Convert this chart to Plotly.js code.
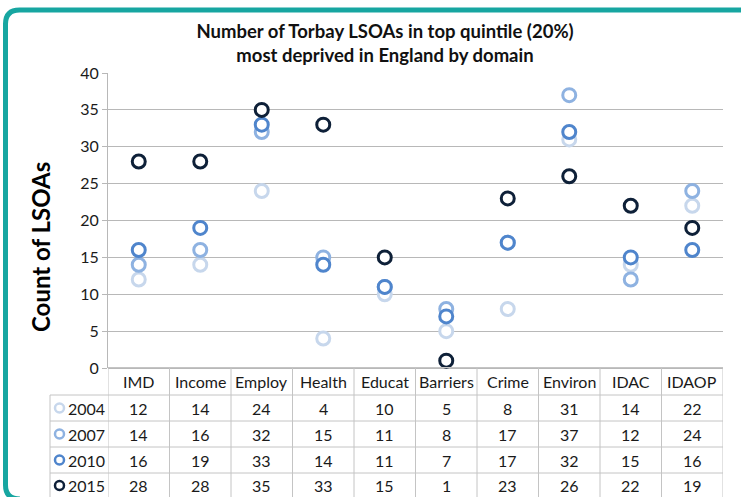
<!DOCTYPE html>
<html>
<head>
<meta charset="utf-8">
<script src="https://cdn.plot.ly/plotly-3.0.1.min.js"></script>
<style>html,body{margin:0;padding:0;background:#fff;}#chart{width:741px;height:497px;}</style>
</head>
<body>
<div id="chart"></div>
<script>
const categories = ['IMD','Income','Employ','Health','Educat','Barriers','Crime','Environ','IDAC','IDAOP'];
const years = ['2004','2007','2010','2015'];
const v2004 = [12,14,24,4,10,5,8,31,14,22];
const v2007 = [14,16,32,15,11,8,17,37,12,24];
const v2010 = [16,19,33,14,11,7,17,32,15,16];
const v2015 = [28,28,35,33,15,1,23,26,22,19];
const series = [v2004, v2007, v2010, v2015];
const colors = ['#c7d7ec','#8eb2e1','#4f85cc','#0e2038'];

const W = 741, H = 497;
const mL = 108, mR = 18, mT = 73, mB = 129;
const pw = W - mL - mR, ph = H - mT - mB;
const px = x => (x - mL) / pw;
const py = y => (H - mB - y) / ph;

const FONT = 'Lato, "Open Sans", sans-serif';

const traces = series.map((vals, i) => ({
  type: 'scatter', mode: 'markers', name: years[i],
  x: categories, y: vals,
  marker: {symbol: 'circle', size: 13, color: '#ffffff', line: {color: colors[i], width: 3}},
  cliponaxis: false, showlegend: false, hoverinfo: 'x+y+name'
}));

const shapes = [];
const annotations = [];
const lineC = '#c4c4c4';
const rowTops = [367.5, 395, 421, 447, 473];
shapes.push({type:'line', xref:'paper', yref:'paper', x0:0, x1:1, y0:py(367.5), y1:py(367.5), line:{color:lineC, width:1}});
rowTops.slice(1).forEach(y => shapes.push({type:'line', xref:'paper', yref:'paper', x0:px(50), x1:1, y0:py(y), y1:py(y), line:{color:lineC, width:1}}));
for (let k = 0; k <= categories.length; k++) {
  shapes.push({type:'line', xref:'x', yref:'paper', x0:k-0.5, x1:k-0.5, y0:py(367.5), y1:py(500), line:{color:lineC, width:1}});
}
shapes.push({type:'line', xref:'paper', yref:'paper', x0:px(50), x1:px(50), y0:py(395), y1:py(500), line:{color:lineC, width:1}});

const TF = {family:FONT, size:16, color:'#1a1a1a'};
categories.forEach((c, i) => annotations.push({xref:'x', yref:'paper', x:c, y:py(381.5), text:c, showarrow:false, xanchor:'center', yanchor:'middle', font:TF}));
const rowCenters = [408, 434, 460, 485.5];
series.forEach((vals, r) => {
  vals.forEach((v, i) => annotations.push({xref:'x', yref:'paper', x:categories[i], y:py(rowCenters[r]), text:String(v), showarrow:false, xanchor:'center', yanchor:'middle', font:TF}));
  annotations.push({xref:'paper', yref:'paper', x:px(66), y:py(rowCenters[r]), text:years[r], showarrow:false, xanchor:'left', yanchor:'middle', font:TF});
  shapes.push({type:'circle', xref:'paper', yref:'paper', xsizemode:'pixel', ysizemode:'pixel', xanchor:px(59.5), yanchor:py(rowCenters[r]), x0:-4.5, x1:4.5, y0:-4.5, y1:4.5, fillcolor:'#ffffff', line:{color:colors[r], width:2.5}});
});

annotations.push({xref:'paper', yref:'paper', x:px(40), y:py(247), text:'<b>Count of LSOAs</b>', textangle:-90, showarrow:false, xanchor:'center', yanchor:'middle', font:{family:FONT, size:24, color:'#000'}});

const P = (x, y) => px(x) + ',' + py(y);
shapes.push({type:'path', xref:'paper', yref:'paper', layer:'above',
  path: 'M ' + P(20,499) + ' Q ' + P(5.5,499) + ' ' + P(5.5,485) + ' L ' + P(5.5,24) + ' Q ' + P(5.5,10) + ' ' + P(19.5,10) + ' L ' + P(760,10),
  line:{color:'#17a6a1', width:5}});

const layout = {
  width: W, height: H,
  margin: {l: mL, r: mR, t: mT, b: mB},
  paper_bgcolor: '#ffffff', plot_bgcolor: '#ffffff',
  title: {text: '<b>Number of Torbay LSOAs in top quintile (20%)<br>most deprived in England by domain</b>',
    xref: 'container', yref: 'container', x: 385/W, y: (H-38)/H, xanchor: 'center', yanchor: 'middle',
    font: {family: FONT, size: 18.5, color: '#111'}},
  xaxis: {type:'category', range:[-0.5, categories.length-0.5], showticklabels:false, showgrid:false, zeroline:false, showline:false, ticks:''},
  yaxis: {range:[0,40], dtick:5, showgrid:true, gridcolor:'#b8b8b8', gridwidth:1, zeroline:true, zerolinecolor:'#b8b8b8', zerolinewidth:1,
    showline:true, linecolor:'#b8b8b8', linewidth:1, ticks:'outside', ticklen:5, tickcolor:'#b8b8b8',
    tickfont:{family:FONT, size:16, color:'#1a1a1a'}},
  shapes: shapes, annotations: annotations, showlegend: false
};

Plotly.newPlot('chart', traces, layout, {displayModeBar:false, staticPlot:true});
</script>
</body>
</html>
